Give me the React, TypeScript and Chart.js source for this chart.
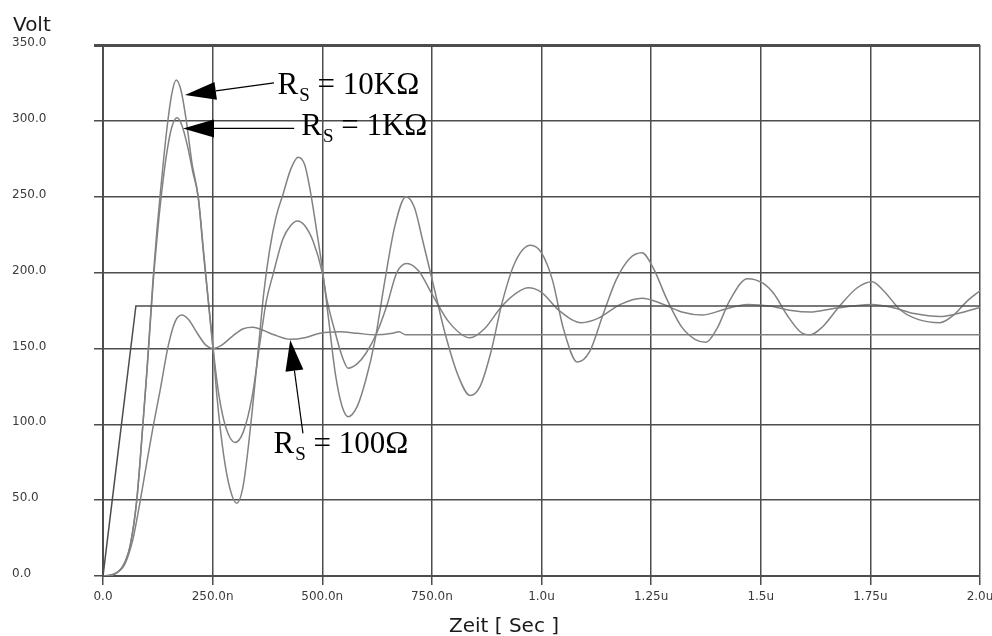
import React, { useEffect, useRef } from "react";
import { Chart, registerables } from "chart.js";

Chart.register(...registerables);

// ---- tick values / labels ----
const xTickValues = [0, 250, 500, 750, 1000, 1250, 1500, 1750, 2000];
const xTickLabels = ["0.0", "250.0n", "500.0n", "750.0n", "1.0u", "1.25u", "1.5u", "1.75u", "2.0u"];
const yTickValues = [0, 50, 100, 150, 200, 250, 300, 350];
const yTickLabels = ["0.0", "50.0", "100.0", "150.0", "200.0", "250.0", "300.0", "350.0"];

// ---- series (time in ns, voltage in V) ----
const t10k = [0, 20, 39, 50, 62, 77, 91, 100, 107, 114, 123, 130, 145, 157, 167, 178, 190, 203, 217, 230, 251, 260, 275, 290, 305, 320, 340, 355, 366, 380, 395, 411, 428, 445, 460, 472, 486, 500, 515, 530, 545, 559, 580, 600, 620, 643, 665, 691, 710, 730, 755, 780, 810, 837, 860, 885, 910, 940, 975, 1000, 1025, 1050, 1082, 1110, 1140, 1170, 1200, 1229, 1255, 1285, 1320, 1350, 1375, 1400, 1430, 1470, 1505, 1530, 1560, 1590, 1613, 1640, 1680, 1720, 1754, 1780, 1820, 1860, 1909, 1940, 1970, 2000];
const v10k = [0, 0.5, 4, 9, 20, 50, 100, 135, 165, 195, 228, 250, 293, 318, 327, 320, 300, 272, 250, 210, 150, 118, 80, 57, 48, 60, 108, 152, 185, 215, 237, 252, 268, 276, 271, 255, 230, 203, 168, 133, 112, 105, 112, 130, 155, 195, 230, 250, 243, 220, 190, 160, 132, 119, 125, 148, 180, 207, 218, 213, 195, 163, 141, 148, 172, 195, 209, 213, 203, 183, 164, 156, 154, 163, 182, 196, 193, 186, 172, 161, 159, 164, 178, 190, 194, 188, 175, 169, 167, 172, 181, 188];

const t1k = [0, 20, 39, 50, 62, 77, 91, 100, 107, 114, 123, 130, 145, 157, 169, 180, 193, 205, 217, 230, 251, 265, 280, 301, 320, 340, 360, 373, 388, 410, 428, 443, 460, 480, 500, 510, 530, 545, 559, 580, 600, 624, 647, 670, 693, 720, 750, 790, 837, 870, 910, 945, 970, 1000, 1040, 1091, 1130, 1180, 1229, 1270, 1320, 1366, 1420, 1470, 1520, 1570, 1613, 1660, 1710, 1754, 1800, 1850, 1909, 1950, 2000];
const v1k = [0, 0.5, 4, 9, 20, 50, 100, 134, 163, 192, 222, 243, 278, 296, 302, 297, 283, 266, 250, 212, 150, 118, 98, 88, 95, 118, 158, 182, 199, 222, 231, 234, 231, 220, 200, 183, 160, 145, 137, 140, 147, 160, 178, 200, 206, 201, 186, 167, 157, 163, 178, 187, 190, 187, 175, 167, 170, 179, 183, 180, 174, 172, 176, 179, 178, 175, 174, 176, 178, 179, 177, 173, 171, 173, 177];

const t100 = [0, 30, 50, 68, 84, 100, 114, 130, 149, 165, 180, 195, 215, 235, 251, 270, 295, 320, 342, 365, 390, 427, 460, 495, 540, 580, 620, 660, 675, 690, 720, 2000];
const v100 = [0, 2, 8, 24, 48, 75, 98, 122, 152, 168, 172, 169, 160, 152, 150, 152, 158, 163, 164, 162, 159, 156, 157, 160, 161, 160, 159, 160, 161, 159, 159, 159];

const tSrc = [0, 75, 2000];
const vSrc = [0, 178, 178];

const toPoints = (ts: number[], vs: number[]) => ts.map((t, i) => ({ x: t, y: vs[i] }));

// ---- annotations (data coordinates) ----
const annotations = [
  { tip: [187, 317], tail: [390, 325], text: [398, 318], label: " = 10K\u03A9" },
  { tip: [182.5, 295], tail: [436, 295], text: [452, 291], label: " = 1K\u03A9" },
  { tip: [427, 155.6], tail: [456, 94], text: [389, 81], label: " = 100\u03A9" },
];

const CURVE = "#828282";
const GRID = "#4d4d4d";
const TEXT = "#3a3a3a";

const overlayPlugin = {
  id: "overlay",
  afterDraw(chart: any) {
    const ctx = chart.ctx;
    const xs = chart.scales.x;
    const ys = chart.scales.y;
    ctx.save();
    // axis titles
    ctx.fillStyle = "#1a1a1a";
    ctx.font = '20px "DejaVu Sans"';
    ctx.textAlign = "left";
    ctx.textBaseline = "alphabetic";
    ctx.fillText("Volt", 13, 31);
    ctx.textAlign = "center";
    ctx.fillText("Zeit [ Sec ]", 504, 632);

    // annotations
    ctx.fillStyle = "#000";
    ctx.strokeStyle = "#000";
    ctx.lineWidth = 1.2;
    ctx.textAlign = "left";
    for (const a of annotations) {
      const tx = xs.getPixelForValue(a.tip[0]);
      const ty = ys.getPixelForValue(a.tip[1]);
      const sx = xs.getPixelForValue(a.tail[0]);
      const sy = ys.getPixelForValue(a.tail[1]);
      const ang = Math.atan2(ty - sy, tx - sx);
      const L = 31, W = 9;
      const bx = tx - L * Math.cos(ang);
      const by = ty - L * Math.sin(ang);
      ctx.beginPath();
      ctx.moveTo(sx, sy);
      ctx.lineTo(bx, by);
      ctx.stroke();
      ctx.beginPath();
      ctx.moveTo(tx, ty);
      ctx.lineTo(bx + W * Math.sin(ang), by - W * Math.cos(ang));
      ctx.lineTo(bx - W * Math.sin(ang), by + W * Math.cos(ang));
      ctx.closePath();
      ctx.fill();

      const px = xs.getPixelForValue(a.text[0]);
      const py = ys.getPixelForValue(a.text[1]);
      ctx.font = '31px "Liberation Serif"';
      ctx.fillText("R", px, py);
      const w1 = ctx.measureText("R").width;
      ctx.font = '19px "Liberation Serif"';
      ctx.fillText("S", px + w1 + 1, py + 7);
      const w2 = ctx.measureText("S").width;
      ctx.font = '31px "Liberation Serif"';
      ctx.fillText(a.label, px + w1 + 1 + w2, py);
    }
    ctx.restore();
  },
};

export default function App() {
  const ref = useRef<HTMLCanvasElement | null>(null);
  useEffect(() => {
    if (!ref.current) return;
    const lineDs = (data: any[], color: string, width: number, mono: boolean) => ({
      data,
      borderColor: color,
      borderWidth: width,
      pointRadius: 0,
      fill: false,
      tension: mono ? 0.4 : 0,
      cubicInterpolationMode: mono ? "monotone" : "default",
    });
    const chart = new Chart(ref.current, {
      type: "line",
      data: {
        datasets: [
          lineDs(toPoints(tSrc, vSrc), GRID, 1.5, false),
          lineDs(toPoints(t100, v100), CURVE, 1.5, true),
          lineDs(toPoints(t1k, v1k), CURVE, 1.5, true),
          lineDs(toPoints(t10k, v10k), CURVE, 1.5, true),
        ] as any,
      },
      options: {
        animation: false,
        responsive: false,
        maintainAspectRatio: false,
        layout: { padding: { left: 12, right: 12, top: 45, bottom: 0 } },
        plugins: { legend: { display: false }, tooltip: { enabled: false }, title: { display: false } },
        scales: {
          x: {
            type: "linear",
            min: 0,
            max: 2000,
            afterBuildTicks: (s: any) => {
              s.ticks = xTickValues.map((v) => ({ value: v }));
            },
            afterFit: (s: any) => {
              s.height = 60;
              s.paddingLeft = 0;
              s.paddingRight = 0;
            },
            ticks: {
              autoSkip: false,
              maxRotation: 0,
              minRotation: 0,
              padding: 5,
              color: TEXT,
              font: { family: "DejaVu Sans", size: 12 },
              callback: (v: any) => {
                const i = xTickValues.indexOf(Number(v));
                return i >= 0 ? xTickLabels[i] : "";
              },
            },
            grid: { color: GRID, lineWidth: 1.5, tickLength: 9 },
            border: { display: true, color: GRID, width: 2 },
          },
          y: {
            type: "linear",
            min: 0,
            max: 350,
            afterBuildTicks: (s: any) => {
              s.ticks = yTickValues.map((v) => ({ value: v }));
            },
            afterFit: (s: any) => {
              s.width = 91;
              s.paddingTop = 0;
              s.paddingBottom = 0;
            },
            ticks: {
              crossAlign: "far",
              labelOffset: -2,
              color: TEXT,
              font: { family: "DejaVu Sans", size: 12 },
              callback: (v: any) => {
                const i = yTickValues.indexOf(Number(v));
                return i >= 0 ? yTickLabels[i] : "";
              },
            },
            grid: {
              color: GRID,
              lineWidth: (c: any) => (c.tick && c.tick.value === 350 ? 3 : 1.5),
              tickLength: 9,
            },
            border: { display: true, color: GRID, width: 2 },
          },
        },
      } as any,
      plugins: [overlayPlugin],
    });
    return () => chart.destroy();
  }, []);
  return (
    <div style={{ position: "absolute", left: 0, top: 0, width: 992, height: 636, background: "#fff" }}>
      <canvas ref={ref} width={992} height={636} style={{ display: "block" }} />
    </div>
  );
}
